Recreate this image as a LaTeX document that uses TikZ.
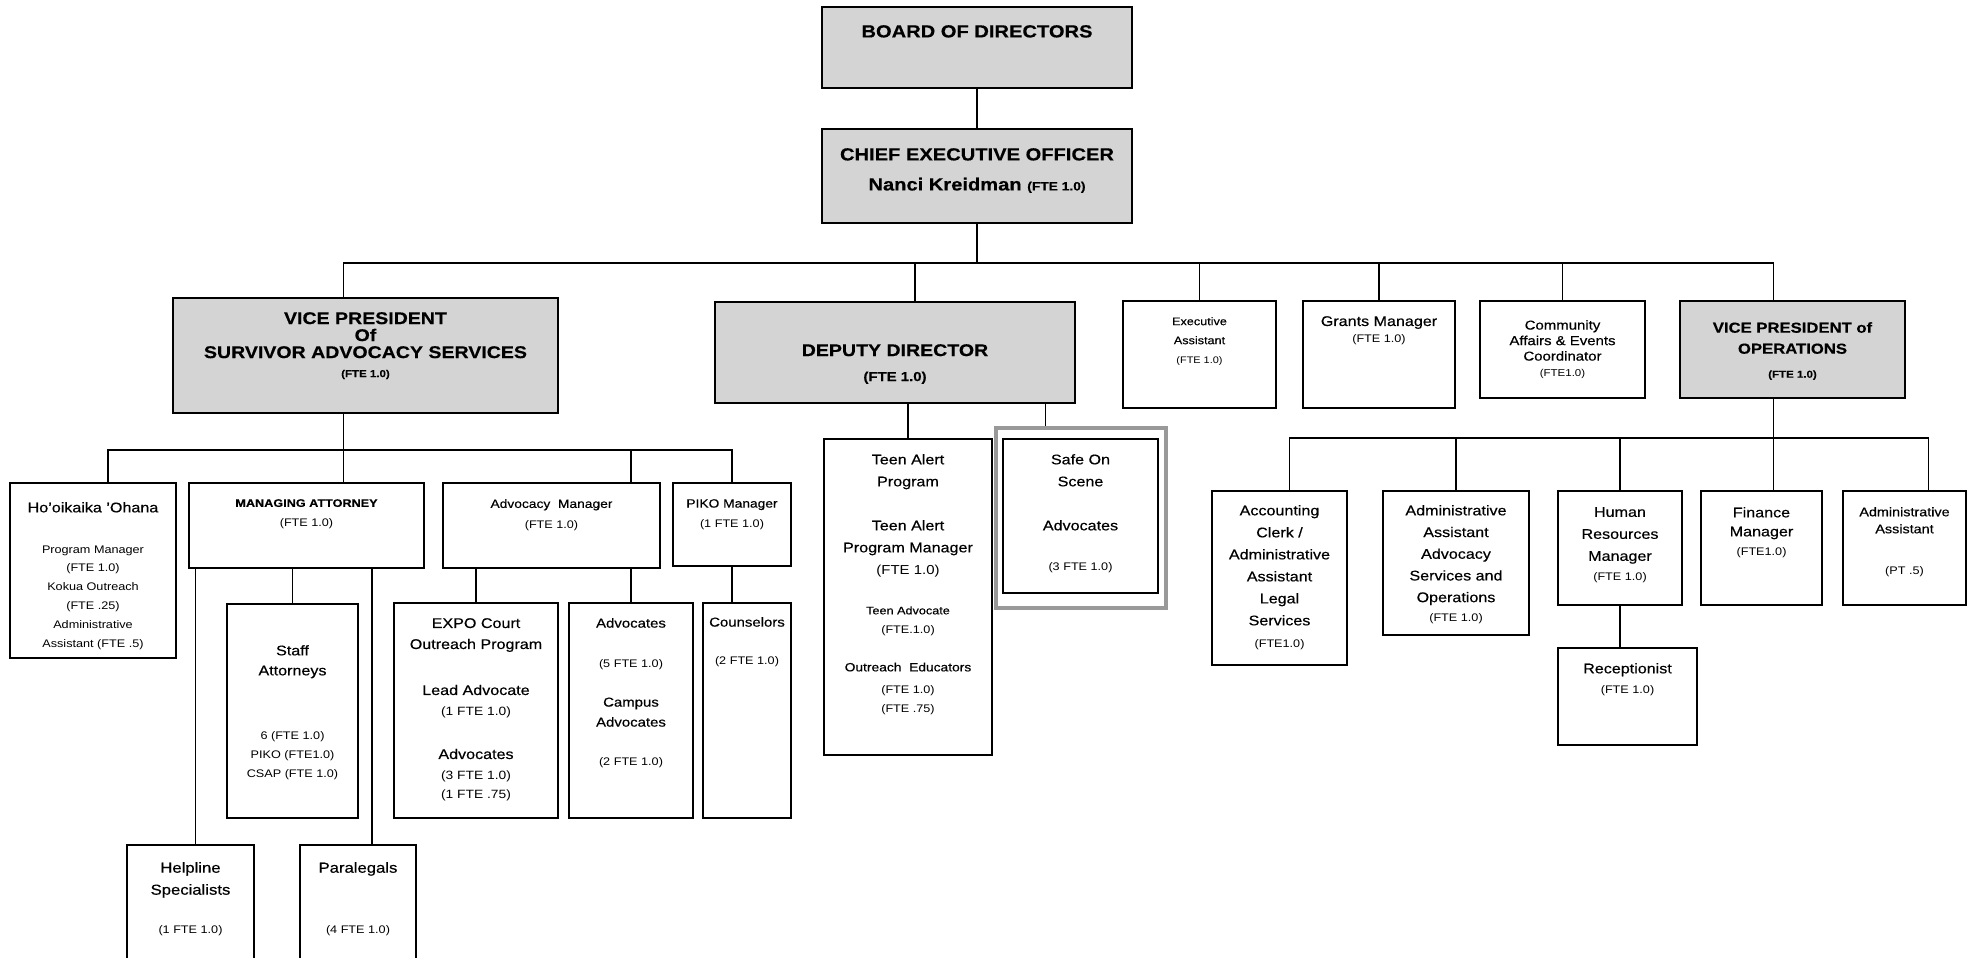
\documentclass[tikz,border=0pt]{standalone}
\usepackage{fontspec}
\setmainfont{Liberation Sans}[FakeStretch=1.15, FakeBold=0.4]
\newfontfamily\ftefont{Liberation Sans}[FakeStretch=1.15]
\usetikzlibrary{fit}
\newcommand\setfs[2]{\fontsize{#1}{#2}\selectfont}
\newcommand\fte[2][11]{{\ftefont\mdseries\setfs{#1}{#1}#2}}

\begin{document}
\begin{tikzpicture}[x=1pt, y=-1pt,
    box/.style={draw, line width=1.6pt, anchor=north west, inner sep=0pt, outer sep=0pt},
    hbox/.style={box, fill=black!17},
    sz/.style 2 args={minimum width=#1pt, minimum height=#2pt},
    lbl/.style={anchor=north, align=center, inner sep=0pt, yshift=-#1pt}]

\useasboundingbox (0,0) rectangle (1974,958);
\clip (0,0) rectangle (1974,958);

% top of the chart
\node[hbox, sz={310}{81}, label={[lbl=18, font=\bfseries\setfs{17.5}{30}]north:{BOARD OF DIRECTORS}}] (board) at (822,7) {};
\node[hbox, sz={310}{94}, label={[lbl=19, font=\bfseries\setfs{17.5}{30}]north:{CHIEF EXECUTIVE OFFICER\\Nanci Kreidman {\bfseries\setfs{12}{12}(FTE 1.0)}}}] (ceo) at (822,129) {};

% second row
\node[hbox, sz={385}{115}, label={[lbl=14, font=\bfseries\setfs{17}{17}]north:{VICE PRESIDENT\\Of\\SURVIVOR ADVOCACY SERVICES\\[2pt]{\setfs{10}{10}(FTE 1.0)}}}] (vpsas) at (173,298) {};
\node[hbox, sz={360}{101}, label={[lbl=42, font=\bfseries\setfs{17}{25}]north:{DEPUTY DIRECTOR\\{\setfs{13}{13}(FTE 1.0)}}}] (dd) at (715,302) {};
\node[box, sz={153}{107}, label={[lbl=16, font=\setfs{11}{19}]north:{Executive\\Assistant\\\fte[9.5]{(FTE 1.0)}}}] (ea) at (1123,301) {};
\node[box, sz={152}{107}, label={[lbl=15, font=\setfs{14}{17}]north:{Grants Manager\\\fte{(FTE 1.0)}}}] (grants) at (1303,301) {};
\node[box, sz={165}{97}, label={[lbl=19, font=\setfs{13}{15.5}]north:{Community\\Affairs \& Events\\Coordinator\\\fte[10]{(FTE1.0)}}}] (comm) at (1480,301) {};
\node[hbox, sz={225}{97}, label={[lbl=21, font=\bfseries\setfs{14.5}{21}]north:{VICE PRESIDENT of\\OPERATIONS\\[3pt]{\setfs{10}{10}(FTE 1.0)}}}] (vpops) at (1680,301) {};

% survivor advocacy services
\node[box, sz={166}{175}, label={[lbl=19, font=\setfs{11}{18.8}]north:{{\setfs{14}{14}Ho'oikaika 'Ohana}\\[22pt]\fte{Program Manager}\\\fte{(FTE 1.0)}\\\fte{Kokua Outreach}\\\fte{(FTE .25)}\\\fte{Administrative}\\\fte{Assistant (FTE .5)}}}] (hoo) at (10,483) {};
\node[box, sz={235}{85}, label={[lbl=16, font=\bfseries\setfs{11}{20}]north:{MANAGING ATTORNEY\\\fte{(FTE 1.0)}}}] (ma) at (189,483) {};
\node[box, sz={217}{85}, label={[lbl=16, font=\setfs{12}{21}]north:{Advocacy\ \ Manager\\\fte{(FTE 1.0)}}}] (am) at (443,483) {};
\node[box, sz={118}{83}, label={[lbl=16, font=\setfs{12}{20}]north:{PIKO Manager\\\fte{(1 FTE 1.0)}}}] (piko) at (673,483) {};

\node[box, sz={131}{214}, label={[lbl=41, font=\setfs{14}{20}]north:{Staff\\Attorneys\\[44pt]\fte{6 (FTE 1.0)}\\[-1pt]\fte{PIKO (FTE1.0)}\\[-1pt]\fte{CSAP (FTE 1.0)}}}] (staff) at (227,604) {};
\node[box, sz={164}{215}, label={[lbl=15, font=\setfs{14}{21}]north:{EXPO Court\\Outreach Program\\[25pt]Lead Advocate\\\fte[12]{(1 FTE 1.0)}\\[22pt]Advocates\\\fte[12]{(3 FTE 1.0)}\\[-2pt]\fte[12]{(1 FTE .75)}}}] (expo) at (394,603) {};
\node[box, sz={124}{215}, label={[lbl=15, font=\setfs{13}{20}]north:{Advocates\\[20pt]\fte{(5 FTE 1.0)}\\[19pt]Campus\\Advocates\\[19pt]\fte{(2 FTE 1.0)}}}] (adv) at (569,603) {};
\node[box, sz={88}{215}, label={[lbl=14, font=\setfs{13}{20}]north:{Counselors\\[18pt]\fte{(2 FTE 1.0)}}}] (couns) at (703,603) {};
\node[box, sz={127}{130}, label={[lbl=17, font=\setfs{14.5}{22}]north:{Helpline\\Specialists\\[17pt]\fte{(1 FTE 1.0)}}}] (help) at (127,845) {};
\node[box, sz={116}{130}, label={[lbl=17, font=\setfs{14.5}{22}]north:{Paralegals\\[39pt]\fte{(4 FTE 1.0)}}}] (para) at (300,845) {};

% deputy director
\node[box, sz={168}{316}, label={[lbl=15, font=\setfs{14}{22}]north:{Teen Alert\\Program\\[22pt]Teen Alert\\Program Manager\\\fte[13]{(FTE 1.0)}\\[18pt]{\setfs{11}{11}Teen Advocate}\\[-3pt]\fte{(FTE.1.0)}\\[16pt]{\setfs{12}{12}Outreach\ \ Educators}\\\fte{(FTE 1.0)}\\[-3pt]\fte{(FTE .75)}}}] (teen) at (824,439) {};
\node[box, sz={155}{154}, label={[lbl=15, font=\setfs{14}{22}]north:{Safe On\\Scene\\[22pt]Advocates\\[18pt]\fte{(3 FTE 1.0)}}}] (safe) at (1003,439) {};
\node[draw=black!40, line width=4pt, fit=(safe), inner xsep=7.5pt, inner ysep=13pt, yshift=-2pt] (sosframe) {};

% operations
\node[box, sz={135}{174}, label={[lbl=14, font=\setfs{14}{22}]north:{Accounting\\Clerk /\\Administrative\\Assistant\\Legal\\Services\\\fte{(FTE1.0)}}}] (acct) at (1212,491) {};
\node[box, sz={146}{144}, label={[lbl=14, font=\setfs{14}{21.7}]north:{Administrative\\Assistant\\Advocacy\\Services and\\Operations\\[-2pt]\fte{(FTE 1.0)}}}] (aadv) at (1383,491) {};
\node[box, sz={124}{114}, label={[lbl=16, font=\setfs{14}{22}]north:{Human\\Resources\\Manager\\[-2pt]\fte{(FTE 1.0)}}}] (hr) at (1558,491) {};
\node[box, sz={139}{97}, label={[lbl=15, font=\setfs{14}{20}]north:{Receptionist\\\fte{(FTE 1.0)}}}] (recep) at (1558,648) {};
\node[box, sz={121}{114}, label={[lbl=16, font=\setfs{14}{19}]north:{Finance\\Manager\\\fte{(FTE1.0)}}}] (fin) at (1701,491) {};
\node[box, sz={123}{114}, label={[lbl=16, font=\setfs{12.5}{17}]north:{Administrative\\Assistant\\[24pt]\fte{(PT .5)}}}] (aasst) at (1843,491) {};

\coordinate (topbus) at (977,263);
\coordinate (sasbus) at (343,450);
\coordinate (opsbus) at (1774,438);

\begin{scope}[every path/.style={draw, line width=1.3pt}]
    \draw (board) -- (ceo);
    \draw (ceo) -- (topbus);
    \draw ([xshift=-22pt]vpsas.north) |- (topbus) -| ([xshift=-19pt]vpops.north);
    \draw ([xshift=20pt]dd.north) -- ([xshift=20pt]dd.north |- topbus);
    \draw (ea.north) -- (ea.north |- topbus);
    \draw (grants.north) -- (grants.north |- topbus);
    \draw (comm.north) -- (comm.north |- topbus);

    \draw ([xshift=-22pt]vpsas.south) -- ([xshift=-22pt]vpsas.south |- ma.north);
    \draw ([xshift=15pt]hoo.north) |- (sasbus) -| (piko.north);
    \draw (adv.north |- sasbus) -- (adv.north |- am.north);
    \draw ([xshift=5pt]help.north) -- ([xshift=5pt]help.north |- ma.south);
    \draw (staff.north) -- (staff.north |- ma.south);
    \draw ([xshift=14pt]para.north) -- ([xshift=14pt]para.north |- ma.south);
    \draw (expo.north) -- (expo.north |- am.south);
    \draw (adv.north) -- (adv.north |- am.south);
    \draw (piko.south) -- (piko.south |- couns.north);

    \draw (teen.north) -- (teen.north |- dd.south);
    \draw ([xshift=-35pt]sosframe.north) -- ([xshift=-35pt]sosframe.north |- dd.south);

    \draw ([xshift=-19pt]vpops.south) -- ([xshift=-19pt]vpops.south |- fin.north);
    \draw ([xshift=10pt]acct.north) |- (opsbus) -| ([xshift=24pt]aasst.north);
    \draw (aadv.north) -- (aadv.north |- opsbus);
    \draw (hr.north) -- (hr.north |- opsbus);
    \draw (hr.south) -- (hr.south |- recep.north);
\end{scope}

\end{tikzpicture}
\end{document}
